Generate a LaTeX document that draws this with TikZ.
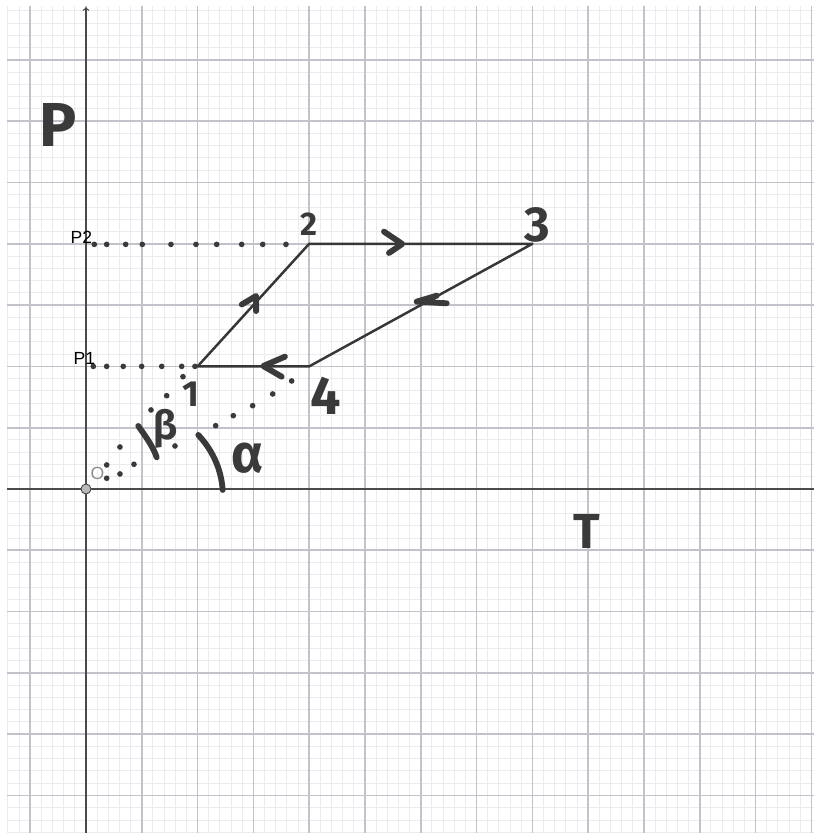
\documentclass[tikz,border=0pt]{standalone}
\usepackage{fontspec}
\newfontfamily\handfont{Fira Sans}
\newfontfamily\geofont{Liberation Sans}
\definecolor{pen}{HTML}{3A3A3A}
\definecolor{edgecol}{HTML}{363636}
\definecolor{majorgrid}{HTML}{C2C2CB}
\definecolor{minorgrid}{HTML}{EAEAEF}
\definecolor{axiscol}{HTML}{4A4A4A}

\begin{document}
\begin{tikzpicture}[x=1.674cm, y=1.839cm,
		penline/.style={line width=5pt, color=pen, line cap=round, line join=round},
		pendot/.style={fill=pen},
		handtext/.style={inner sep=0pt, text=pen, font=\handfont\bfseries},
		geotext/.style={inner sep=0pt, font=\geofont\fontsize{15}{15}\selectfont}]
	\useasboundingbox (-1.541,-5.612) rectangle (13.047,7.977);

	% minor and major grid, 5 minor steps per unit
	\foreach \i in {-7,...,65}
		\draw[color=minorgrid, line width=0.8pt] ({\i/5},-5.62) -- ({\i/5},7.88);
	\foreach \j in {-28,...,39}
		\draw[color=minorgrid, line width=0.8pt] (-1.42,{\j/5}) -- (13.05,{\j/5});
	\foreach \i in {-1,...,13}
		\draw[color=majorgrid, line width=1.4pt] (\i,-5.62) -- (\i,7.88);
	\foreach \j in {-5,...,7}
		\draw[color=majorgrid, line width=1.4pt] (-1.42,\j) -- (13.05,\j);

	\draw[color=axiscol, line width=1.1pt] (-1.42,0) -- (13.05,0);
	\draw[color=axiscol, line width=1.1pt, ->] (0,-5.62) -- (0,7.86);

	\coordinate (s1) at (2,2);
	\coordinate (s2) at (4,4);
	\coordinate (s3) at (8,4);
	\coordinate (s4) at (4,2);

	% hand-drawn dotted guides
	\foreach \x in {0.149,0.371,0.711,1.009,1.523,1.971,2.342,2.790,3.167,3.584}
		\fill[pendot] (\x,3.99) circle (0.085cm);
	\foreach \x in {0.131,0.371,0.668,0.998,1.357,1.715,1.953}
		\fill[pendot] (\x,2.0) circle (0.085cm);
	\foreach \x/\y in {0.371/0.392,0.609/0.685,1.165/1.289,1.446/1.522,1.738/1.832}
		\fill[pendot] (\x,\y) circle (0.085cm);
	\foreach \x/\y in {0.371/0.175,0.609/0.245,0.860/0.403,1.595/0.701,2.324/1.033,2.640/1.196,2.987/1.359,3.346/1.550,3.686/1.762}
		\fill[pendot] (\x,\y) circle (0.085cm);

	\draw[color=edgecol, line width=2.1pt, line join=round] (s1) -- (s2) -- (s3) -- (s4) -- cycle;

	% direction marks
	\draw[penline] (2.792,3.010) -- (3.049,3.148) -- (3.049,2.903);
	\draw[penline] (5.341,4.198) -- (5.668,3.997) -- (5.430,3.850);
	\draw[penline] (6.285,3.153) -- (5.926,3.056) -- (6.464,3.029);
	\draw[penline] (3.566,2.158) -- (3.177,2.006) -- (3.507,1.832);

	% angle arcs
	\draw[penline] (0.937,1.028) .. controls (1.050,0.880) and (1.200,0.700) .. (1.267,0.517);
	\draw[penline] (2.013,0.881) .. controls (2.250,0.650) and (2.420,0.350) .. (2.450,-0.016);

	\node[circle, fill=gray!55, draw=axiscol, line width=0.8pt, minimum size=0.3cm, inner sep=0pt] (O) at (0,0) {};

	\node[geotext, text=gray!90] (lblO) at (0.206,0.261) {O};
	\node[geotext] (lblP2) at (-0.081,4.111) {P2};
	\node[geotext] (lblP1) at (-0.027,2.129) {P1};

	\node[handtext, font=\handfont\bfseries\fontsize{53}{53}\selectfont] (lblP) at (-0.502,5.938) {P};
	\node[handtext, font=\handfont\bfseries\fontsize{42}{42}\selectfont] (lblT) at (8.978,-0.685) {T};
	\node[handtext, font=\handfont\bfseries\fontsize{31}{31}\selectfont] (n1) at (1.882,1.55) {1};
	\node[handtext, font=\handfont\bfseries\fontsize{28}{28}\selectfont] (n2) at (4.005,4.32) {2};
	\node[handtext, font=\handfont\bfseries\fontsize{42}{42}\selectfont] (n3) at (8.09,4.30) {3};
	\node[handtext, font=\handfont\bfseries\fontsize{46}{46}\selectfont] (n4) at (4.30,1.517) {4};
	\node[handtext, font=\handfont\bfseries\fontsize{34}{34}\selectfont] (beta) at (1.434,0.979) {β};
	\node[handtext, font=\handfont\bfseries\fontsize{46}{46}\selectfont] (alpha) at (2.903,0.506) {α};
\end{tikzpicture}
\end{document}
